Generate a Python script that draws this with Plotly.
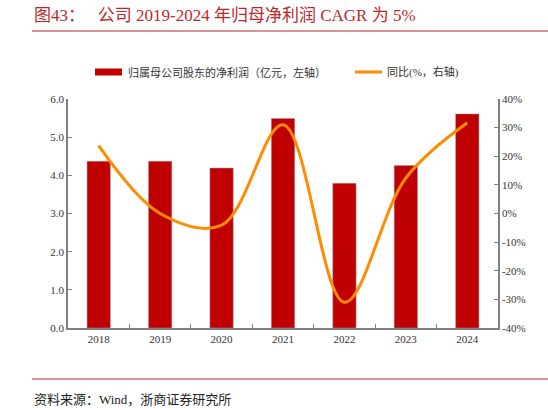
import plotly.graph_objects as go

years = ["2018", "2019", "2020", "2021", "2022", "2023", "2024"]
profit = [4.37, 4.37, 4.19, 5.49, 3.79, 4.26, 5.61]
yoy = [23.7, 0.0, -4.1, 31.0, -31.0, 12.4, 31.7]
left_ticks = [0, 1, 2, 3, 4, 5, 6]
right_ticks = [-40, -30, -20, -10, 0, 10, 20, 30, 40]

BAR = "#C00000"
LINE = "#FF8C00"
AXIS = "#808080"
FONT = "Liberation Serif, Times New Roman, Noto Sans CJK SC, serif"

fig = go.Figure()
fig.add_trace(go.Bar(x=years, y=profit, marker=dict(color=BAR, line=dict(color="#A0A0A0", width=0.5)),
                     width=0.38, name="归属母公司股东的净利润（亿元，左轴）", showlegend=False))
fig.add_trace(go.Scatter(x=years, y=yoy, yaxis="y2", mode="lines",
                         line=dict(color=LINE, width=3, shape="spline", smoothing=1.0),
                         name="同比(%，右轴)", showlegend=False))

fig.update_layout(
    width=548, height=410,
    margin=dict(l=68, r=50, t=99, b=82),
    paper_bgcolor="white", plot_bgcolor="white",
    font=dict(family=FONT, size=11, color="#333333"),
    xaxis=dict(type="category", showline=True, linecolor=AXIS, linewidth=1.5,
               ticks="inside", ticklen=4, tickcolor=AXIS, tickson="boundaries",
               showgrid=False, tickfont=dict(size=11, family=FONT, color="#333333"),
               range=[-0.5, 6.5]),
    yaxis=dict(range=[0, 6], tickvals=left_ticks, ticktext=[f"{v:.1f}" for v in left_ticks],
               showline=True, linecolor=AXIS, linewidth=1.5, ticks="inside", ticklen=4,
               tickcolor=AXIS, showgrid=False, zeroline=False, automargin=False,
               tickfont=dict(size=11, family=FONT, color="#333333")),
    yaxis2=dict(range=[-40, 40], overlaying="y", side="right", tickvals=right_ticks,
                ticktext=[f"{v}%" for v in right_ticks], showline=True, linecolor=AXIS,
                linewidth=1.5, ticks="inside", ticklen=4, tickcolor=AXIS, showgrid=False,
                zeroline=False, automargin=False,
                tickfont=dict(size=11, family=FONT, color="#333333")),
)

# title
fig.add_annotation(xref="paper", yref="paper", x=-0.084, y=1.0, xanchor="left", yanchor="middle",
                   yshift=99 - 15, showarrow=False,
                   text="图43：   公司 2019-2024 年归母净利润 CAGR 为 5%",
                   font=dict(size=17, color="#C0272D", family=FONT))
# title rule & bottom rule
fig.add_shape(type="line", xref="paper", yref="paper", x0=-0.084, x1=1.12, y0=1 + (99 - 31) / 229,
              y1=1 + (99 - 31) / 229, line=dict(color="#C0272D", width=1))
fig.add_shape(type="line", xref="paper", yref="paper", x0=-0.084, x1=1.12, y0=-(379 - 328) / 229,
              y1=-(379 - 328) / 229, line=dict(color="#C0272D", width=1))
# source
fig.add_annotation(xref="paper", yref="paper", x=-0.084, y=-(399 - 328) / 229, xanchor="left",
                   yanchor="middle", showarrow=False, text="资料来源：Wind，浙商证券研究所",
                   font=dict(size=13, color="#222222", family=FONT))

# manual legend
ly = 1 + (99 - 72) / 229
fig.add_shape(type="rect", xref="paper", yref="paper", x0=(95 - 68) / 430, x1=(122 - 68) / 430,
              y0=ly - 3.5 / 229, y1=ly + 3.5 / 229, fillcolor=BAR, line=dict(width=0))
fig.add_annotation(xref="paper", yref="paper", x=(126 - 68) / 430, y=ly, xanchor="left",
                   yanchor="middle", showarrow=False, text="归属母公司股东的净利润（亿元，左轴）",
                   font=dict(size=11, color="#333333", family=FONT))
fig.add_shape(type="line", xref="paper", yref="paper", x0=(355 - 68) / 430, x1=(382 - 68) / 430,
              y0=ly, y1=ly, line=dict(color=LINE, width=3))
fig.add_annotation(xref="paper", yref="paper", x=(385 - 68) / 430, y=ly, xanchor="left",
                   yanchor="middle", showarrow=False, text="同比(%，右轴)",
                   font=dict(size=11, color="#333333", family=FONT))

fig.write_html("out.html", config={"displayModeBar": False},
               post_script="document.body.style.margin='0';")
